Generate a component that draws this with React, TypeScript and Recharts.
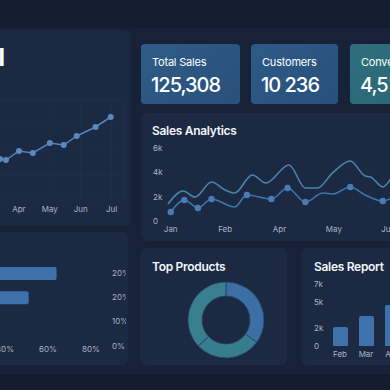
import React from 'react';
import {
  LineChart,
  Line,
  BarChart,
  Bar,
  PieChart,
  Pie,
  Cell,
  XAxis,
  YAxis,
  CartesianGrid,
} from 'recharts';

// left trend card (x = month number, Apr = 4)
const monthNames = ['Jan', 'Feb', 'Mar', 'Apr', 'May', 'Jun', 'Jul'];
const trendMonths = [3.39, 3.58, 4.0, 4.45, 5.0, 5.45, 5.87, 6.48, 6.97];
const trendValues = [41, 40, 49, 47, 57, 55, 64, 73, 83];

// sales analytics (x in weeks from Jan)
const analyticsTickWeeks = [0, 4, 8, 12, 16];
const analyticsTickLabels = ['Jan', 'Feb', 'Apr', 'May', 'Jun'];
const upperWeeks = [-0.2, 0.9, 1.8, 3.0, 4.0, 4.7, 6.0, 7.0, 8.7, 9.9, 10.8, 11.9, 13.2, 14.3, 14.7, 15.6, 16.2];
const upperValues = [1400, 2470, 1970, 3200, 2550, 2300, 3780, 3120, 4600, 2710, 2710, 3950, 4930, 3700, 3620, 2800, 3530];
const lowerWeeks = [0, 1, 2, 3, 4.7, 5.6, 7.4, 8.6, 9.9, 11.2, 11.9, 13.2, 14.3, 15.6, 16.2];
const lowerValues = [740, 1730, 1070, 1810, 1150, 2140, 1810, 2710, 1560, 2300, 2220, 2800, 2140, 1640, 1890];
const lowerDotWeeks = [0, 1, 2, 3, 5.6, 7.4, 8.6, 9.9, 13.2, 15.6];

// horizontal bars (rows top to bottom)
const hbarRows = ['r1', 'r2', 'r3', 'r4'];
const hbarValues = [64, 51, 0, 0];
const hbarRowLabels = ['20%', '20%', '10%', '0%'];
const hbarTicks = [0, 20, 40, 60, 80];

// top products donut
const productNames = ['Product A', 'Product B', 'Product C'];
const productShares = [35, 28, 37];
const productColors = ['#3c6fa6', '#367d8d', '#3a7f8f'];

// sales report
const reportMonths = ['Feb', 'Mar', 'Apr'];
const reportValues = [2150, 3390, 4630];
const reportTicks = [0, 2000, 5000, 7000];
const reportTickLabels = ['0', '2k', '5k', '7k'];

const trendData = trendMonths.map((m, i) => ({ m, v: trendValues[i] }));
const upperData = upperWeeks.map((w, i) => ({ w, v: upperValues[i] }));
const lowerData = lowerWeeks.map((w, i) => ({ w, v: lowerValues[i] }));
const hbarData = hbarRows.map((name, i) => ({ name, v: hbarValues[i] }));
const productData = productNames.map((name, i) => ({ name, v: productShares[i] }));
const reportData = reportMonths.map((name, i) => ({ name, v: reportValues[i] }));

const FONT = 'Inter, "Noto Sans", sans-serif';
const TICK = { fill: '#aab4c4', fontSize: 8, fontFamily: FONT };
const CARD_BG = '#1b2943';

const box = (left: number, top: number, width: number, height: number, extra: React.CSSProperties = {}): React.CSSProperties => ({
  position: 'absolute',
  left,
  top,
  width,
  height,
  ...extra,
});

const LeftTick = ({ x, y, payload, offset, labels }: any) => (
  <text
    x={x - offset}
    y={y}
    textAnchor="start"
    dominantBaseline="central"
    fill={TICK.fill}
    fontSize={8}
    fontFamily={FONT}
  >
    {labels ? labels[payload.index] : payload.value}
  </text>
);

const Kpi = ({ left, width, title, value, bg }: any) => (
  <div style={box(left, 44, width, 60, { background: bg, borderRadius: 4, color: '#fff', fontFamily: FONT })}>
    <div style={{ position: 'absolute', left: 11, top: 11, fontSize: 11, letterSpacing: -0.2 }}>{title}</div>
    <div style={{ position: 'absolute', left: 10, top: 29, fontSize: 20, fontWeight: 500, letterSpacing: -1 }}>
      {value}
    </div>
  </div>
);

const title = (left: number, top: number, text: string) => (
  <div
    style={{
      position: 'absolute',
      left,
      top,
      fontSize: 12,
      fontWeight: 600,
      letterSpacing: -0.3,
      color: '#f2f5f9',
      fontFamily: FONT,
      whiteSpace: 'nowrap',
    }}
  >
    {text}
  </div>
);

export default function App() {
  return (
    <div
      style={{
        position: 'fixed',
        left: 0,
        top: 0,
        width: 390,
        height: 390,
        overflow: 'hidden',
        background: '#172239',
        fontFamily: FONT,
      }}
    >
      {/* top bar + bottom band */}
      <div style={box(0, 0, 390, 28, { background: '#141d31' })} />
      <div style={box(0, 374, 390, 16, { background: '#131b2c' })} />

      {/* cards */}
      <div style={box(-10, 30, 141, 196, { background: CARD_BG, borderRadius: 6 })} />
      <div style={box(141, 113, 260, 128, { background: CARD_BG, borderRadius: 6 })} />
      <div style={box(-10, 232, 138, 133, { background: CARD_BG, borderRadius: 6 })} />
      <div style={box(140, 248, 147, 117, { background: CARD_BG, borderRadius: 6 })} />
      <div style={box(301, 248, 100, 117, { background: CARD_BG, borderRadius: 6 })} />

      {/* cut-off title of left card */}
      <div
        style={{
          position: 'absolute',
          right: 385,
          top: 43,
          fontSize: 24,
          fontWeight: 700,
          color: '#ffffff',
          whiteSpace: 'nowrap',
        }}
      >
        Overall
      </div>

      <Kpi left={141} width={99} title="Total Sales" value="125,308" bg="linear-gradient(135deg, #2f5c88, #29507b)" />
      <Kpi left={251} width={87} title="Customers" value="10 236" bg="linear-gradient(135deg, #2e5a87, #28507c)" />
      <Kpi left={350} width={80} title="Conversion" value="4,5%" bg="linear-gradient(135deg, #2e6f7e, #2a6474)" />

      {/* left trend line */}
      <div style={box(-20, 90, 150, 128)}>
        <LineChart width={150} height={128} data={trendData} margin={{ top: 10, right: 6, bottom: 2, left: 8 }}>
          <CartesianGrid stroke="#ffffff" strokeOpacity={0.025} />
          <XAxis
            dataKey="m"
            type="number"
            domain={[3, 7.4]}
            ticks={[4, 5, 6, 7]}
            tickFormatter={(m: number) => monthNames[m - 1]}
            axisLine={false}
            tickLine={false}
            tickSize={0}
            tickMargin={6}
            height={16}
            tick={TICK}
            allowDataOverflow
          />
          <YAxis hide domain={[0, 100]} />
          <Line
            dataKey="v"
            stroke="#5683b8"
            strokeWidth={1.5}
            dot={{ r: 3, fill: '#5b89bf', stroke: 'none' }}
            isAnimationActive={false}
          />
        </LineChart>
      </div>

      {/* sales analytics */}
      {title(152, 123, 'Sales Analytics')}
      <div style={box(141, 113, 260, 125)}>
        <LineChart width={260} height={125} margin={{ top: 35, right: 10, bottom: 3, left: 0 }}>
          <XAxis
            dataKey="w"
            type="number"
            domain={[-0.2, 16.2]}
            ticks={analyticsTickWeeks}
            tickFormatter={(w: number) => analyticsTickLabels[analyticsTickWeeks.indexOf(w)]}
            axisLine={false}
            tickLine={false}
            tickSize={0}
            tickMargin={5}
            height={14}
            tick={TICK}
            interval={0}
          />
          <YAxis
            domain={[0, 6000]}
            ticks={[0, 2000, 4000, 6000]}
            width={27}
            axisLine={false}
            tickLine={false}
            tickSize={0}
            tickMargin={0}
            interval={0}
            tick={<LeftTick offset={15} labels={['0', '2k', '4k', '6k']} />}
          />
          <Line
            data={upperData}
            dataKey="v"
            type="monotone"
            stroke="#4a84ab"
            strokeWidth={1.6}
            dot={false}
            isAnimationActive={false}
          />
          <Line
            data={lowerData}
            dataKey="v"
            type="monotone"
            stroke="#3f73ab"
            strokeWidth={1.6}
            dot={(p: any) =>
              lowerDotWeeks.includes(p.payload.w) ? (
                <circle key={p.index} cx={p.cx} cy={p.cy} r={3.2} fill="#4a7bb5" />
              ) : (
                <g key={p.index} />
              )
            }
            isAnimationActive={false}
          />
        </LineChart>
      </div>

      {/* horizontal bars */}
      <div style={box(-90, 250, 216, 120)}>
        <BarChart
          width={216}
          height={120}
          data={hbarData}
          layout="vertical"
          margin={{ top: 11, right: 5, bottom: 0, left: 9 }}
        >
          <XAxis
            type="number"
            domain={[0, 80]}
            ticks={hbarTicks}
            tickFormatter={(v: number) => `${v}%`}
            axisLine={false}
            tickLine={false}
            tickSize={0}
            tickMargin={-12}
            height={12}
            tick={TICK}
            interval={0}
          />
          <YAxis
            type="category"
            dataKey="name"
            orientation="right"
            tickFormatter={(_: string, i: number) => hbarRowLabels[i]}
            width={30}
            axisLine={false}
            tickLine={false}
            tickSize={0}
            tickMargin={21}
            tick={TICK}
            interval={0}
          />
          <Bar dataKey="v" fill="#3e70aa" barSize={13} radius={[0, 2, 2, 0]} isAnimationActive={false} />
        </BarChart>
      </div>

      {/* top products donut */}
      {title(152, 259, 'Top Products')}
      <div style={box(171, 265, 100, 100)}>
        <PieChart width={100} height={100}>
          <Pie
            data={productData}
            dataKey="v"
            cx={50}
            cy={50}
            innerRadius={24}
            outerRadius={38}
            startAngle={90}
            endAngle={-270}
            stroke="#2a4262"
            strokeWidth={0.8}
            isAnimationActive={false}
          >
            {productData.map((_, i) => (
              <Cell key={i} fill={productColors[i]} />
            ))}
          </Pie>
        </PieChart>
      </div>

      {/* sales report */}
      {title(314, 259, 'Sales Report')}
      <div style={box(301, 275, 110, 87)}>
        <BarChart width={110} height={87} data={reportData} margin={{ top: 9, right: 6, bottom: 2, left: 0 }}>
          <XAxis
            dataKey="name"
            axisLine={false}
            tickLine={false}
            tickSize={0}
            tickMargin={5}
            height={14}
            tick={TICK}
            interval={0}
          />
          <YAxis
            domain={[0, 7000]}
            ticks={reportTicks}
            width={26}
            axisLine={false}
            tickLine={false}
            tickSize={0}
            tickMargin={0}
            interval={0}
            tick={<LeftTick offset={13} labels={reportTickLabels} />}
          />
          <Bar dataKey="v" fill="#3f71ab" barSize={15} radius={[2, 2, 0, 0]} isAnimationActive={false} />
        </BarChart>
      </div>
    </div>
  );
}
